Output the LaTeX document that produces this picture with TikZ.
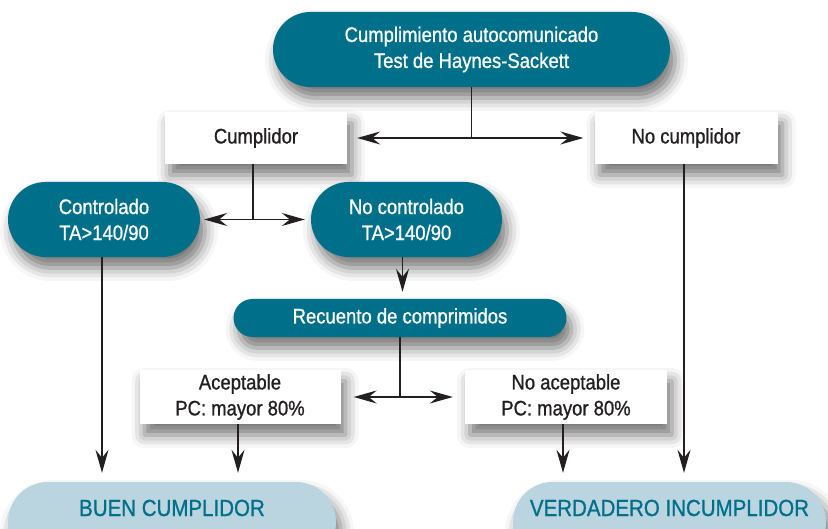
\documentclass[tikz,border=0pt]{standalone}
\usepackage{fontspec}
\setmainfont{Liberation Sans}[FakeStretch=0.88,FakeBold=0.9]
\usetikzlibrary{arrows.meta,shapes.misc,shadows.blur}
\definecolor{petrol}{RGB}{0,112,138}
\definecolor{paleblue}{RGB}{186,213,224}
\definecolor{inkgray}{RGB}{35,31,32}
\tikzset{
  softshadow/.style={blur shadow={shadow xshift=5pt,shadow yshift=-11pt,shadow blur radius=13pt,shadow opacity=55}},
  pill/.style={rounded rectangle,fill=petrol,text=white,inner sep=0pt,align=center,
    font=\fontsize{21}{26}\selectfont,softshadow},
  plainbox/.style={rectangle,fill=white,text=inkgray,inner sep=0pt,align=center,
    font=\fontsize{21}{26}\selectfont,softshadow},
  endpill/.style={rounded rectangle,fill=paleblue,inner sep=0pt,softshadow},
  endlabel/.style={text=petrol,inner sep=0pt,font=\fontsize{23.3}{28}\selectfont},
  link/.style={draw=inkgray,line width=1.3pt},
  >={Stealth[length=23pt,width=13pt,inset=8pt]}
}
\begin{document}
\begin{tikzpicture}[x=1pt,y=-1pt]
\useasboundingbox (0,0) rectangle (828,529);
\clip (0,0) rectangle (828,529);
% boxes
\node[pill,minimum width=397,minimum height=75] (top) at (471.5,49.5) {Cumplimiento autocomunicado\\Test de Haynes-Sackett};
\node[plainbox,minimum width=182,minimum height=52] (cumplidor) at (256,138) {Cumplidor};
\node[plainbox,minimum width=183,minimum height=52] (nocumplidor) at (686,138) {No cumplidor};
\node[pill,minimum width=192,minimum height=75] (controlado) at (104,219.5) {Controlado\\TA>140/90};
\node[pill,minimum width=191,minimum height=75] (nocontrolado) at (406.5,219.5) {No controlado\\TA>140/90};
\node[pill,minimum width=333,minimum height=38] (recuento) at (400,318) {Recuento de comprimidos};
\node[plainbox,minimum width=201,minimum height=54] (aceptable) at (240,397) {Aceptable\\PC: mayor 80\%};
\node[plainbox,minimum width=202,minimum height=54] (noaceptable) at (566,397) {No aceptable\\PC: mayor 80\%};
\node[endpill,minimum width=328,minimum height=80] (buen) at (172,522) {};
\node[endpill,minimum width=313,minimum height=80] (verdadero) at (669.5,522) {};
\node[endlabel] (buentext) at (172,508) {BUEN CUMPLIDOR};
\node[endlabel] (verdaderotext) at (669.5,508) {VERDADERO INCUMPLIDOR};
% connectors
\coordinate (split1) at (top.south |- cumplidor.east);
\draw[link] (top.south) -- (split1);
\draw[link,<->,shorten <=10pt,shorten >=11pt] (cumplidor.east) -- (nocumplidor.west);
\coordinate (split2) at ([xshift=-3pt]cumplidor.south |- controlado.east);
\draw[link] ([xshift=-3pt]cumplidor.south) -- (split2);
\draw[link,<->,shorten <=4pt,shorten >=6pt] (controlado.east) -- (nocontrolado.west);
\draw[link,->,shorten >=7pt] ([xshift=-4pt]nocontrolado.south) -- ([xshift=-4pt]nocontrolado.south |- recuento.north);
\coordinate (split3) at (recuento.south |- aceptable.east);
\draw[link] (recuento.south) -- (split3);
\draw[link,<->,shorten <=13pt,shorten >=12pt] (aceptable.east) -- (noaceptable.west);
\draw[link,->,shorten >=9pt] ([xshift=-2pt]controlado.south) -- ([xshift=-2pt]controlado.south |- buen.north);
\draw[link,->,shorten >=9pt] ([xshift=-2pt]aceptable.south) -- ([xshift=-2pt]aceptable.south |- buen.north);
\draw[link,->,shorten >=9pt] ([xshift=-3pt]noaceptable.south) -- ([xshift=-3pt]noaceptable.south |- verdadero.north);
\draw[link,->,shorten >=9pt] ([xshift=-2pt]nocumplidor.south) -- ([xshift=-2pt]nocumplidor.south |- verdadero.north);
\end{tikzpicture}
\end{document}
